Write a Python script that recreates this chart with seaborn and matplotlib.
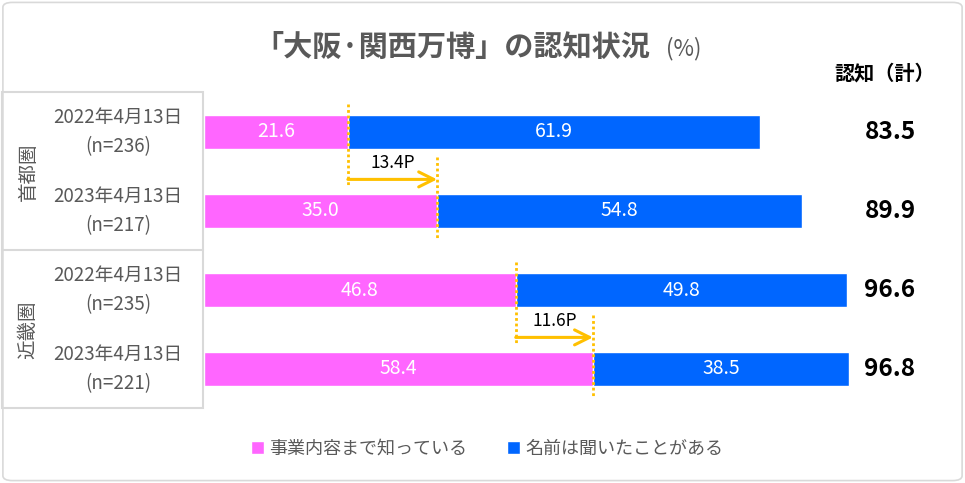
import pandas as pd
import matplotlib.pyplot as plt
import seaborn as sns
from matplotlib.patches import Rectangle, FancyBboxPatch
from matplotlib.lines import Line2D

# data
regions = ['首都圏', '首都圏', '近畿圏', '近畿圏']
dates = ['2022年4月13日', '2023年4月13日', '2022年4月13日', '2023年4月13日']
sample_n = [236, 217, 235, 221]
know_detail = [21.6, 35.0, 46.8, 58.4]
know_name = [61.9, 54.8, 49.8, 38.5]
total = [83.5, 89.9, 96.6, 96.8]
diff_labels = ['13.4P', '11.6P']
series_names = ['事業内容まで知っている', '名前は聞いたことがある']

PINK = '#FF66FF'
BLUE = '#0066FF'
GOLD = '#FFC000'
GRAY = '#595959'

df = pd.DataFrame({
    'row': [f'{r}_{d}_{n}' for r, d, n in zip(regions, dates, sample_n)],
    'detail': know_detail,
    'name': know_name,
})
df['stack'] = df['detail'] + df['name']

sns.set_theme(style='white')
plt.rcParams['font.family'] = ['Noto Sans CJK JP', 'DejaVu Sans']

fig = plt.figure(figsize=(9.65, 4.83), dpi=100)
ax = fig.add_axes([204 / 965, (483 - 408.5) / 483, 736 / 965, 316 / 483])

sns.barplot(data=df, x='stack', y='row', color=BLUE, width=0.42, saturation=1,
            orient='h', ax=ax, label=series_names[1])
sns.barplot(data=df, x='detail', y='row', color=PINK, width=0.42, saturation=1,
            orient='h', ax=ax, label=series_names[0])

ax.set_xlim(0, 110.5)
ax.set_ylim(3.5, -0.5)
ax.axis('off')

# values inside bars
for i in range(len(df)):
    ax.text(know_detail[i] / 2, i, f'{know_detail[i]:.1f}', color='white',
            ha='center', va='center', fontsize=14)
    ax.text(know_detail[i] + know_name[i] / 2, i, f'{know_name[i]:.1f}', color='white',
            ha='center', va='center', fontsize=14)
    ax.text(103, i, f'{total[i]:.1f}', color='black', fontweight='bold',
            ha='center', va='center', fontsize=17.5)
    ax.text(-12.9, i - 0.19, dates[i], color=GRAY, ha='center', va='center',
            fontsize=13.5, clip_on=False)
    ax.text(-12.9, i + 0.19, f'(n={sample_n[i]})', color=GRAY, ha='center', va='center',
            fontsize=13.5, clip_on=False)

# change markers between years
for k, (a, b) in enumerate([(0, 1), (2, 3)]):
    x0, x1 = know_detail[a], know_detail[b]
    ax.plot([x0, x0], [a - 0.35, a + 0.68], color=GOLD, lw=2, ls=(0, (1, 1)))
    ax.plot([x1, x1], [b - 0.68, b + 0.35], color=GOLD, lw=2, ls=(0, (1, 1)))
    ax.annotate('', xy=(x1, a + 0.6), xytext=(x0, a + 0.6),
                arrowprops=dict(arrowstyle='->,head_length=0.9,head_width=0.45',
                                color=GOLD, lw=2.2, shrinkA=0, shrinkB=0))
    ax.text((x0 + x1) / 2, a + 0.39, diff_labels[k], color='black',
            ha='center', va='center', fontsize=12.5)

# title
fig.text(452 / 965, 1 - 47 / 483, '「大阪·関西万博」の認知状況', color=GRAY,
         fontsize=21, fontweight='bold', ha='center', va='center')
fig.text(684 / 965, 1 - 49 / 483, '(%)', color=GRAY, fontsize=16,
         ha='center', va='center')
fig.text(885 / 965, 1 - 73 / 483, '認知（計）', color='black', fontsize=14.5,
         fontweight='bold', ha='center', va='center')

# row label table
fig.add_artist(Rectangle((2 / 965, (483 - 408) / 483), 201 / 965, 316 / 483,
                         transform=fig.transFigure, fill=False,
                         edgecolor='#D9D9D9', lw=1.5))
fig.add_artist(Line2D([2 / 965, 203 / 965], [(483 - 250) / 483] * 2,
                      transform=fig.transFigure, color='#D9D9D9', lw=1.5))
fig.text(28 / 965, 1 - 172 / 483, '首都圏', rotation=90, color=GRAY, fontsize=14,
         ha='center', va='center')
fig.text(28 / 965, 1 - 330 / 483, '近畿圏', rotation=90, color=GRAY, fontsize=14,
         ha='center', va='center')

# outer frame
fig.add_artist(FancyBboxPatch((0.003, 0.005), 0.994, 0.99,
                              boxstyle='round,pad=0,rounding_size=0.01',
                              transform=fig.transFigure, fill=False,
                              edgecolor='#D9D9D9', lw=1.2))

# legend
handles, labels = ax.get_legend_handles_labels()
order = [labels.index(s) for s in series_names]
if ax.get_legend() is not None:
    ax.get_legend().remove()
fig.legend([handles[i] for i in order], [labels[i] for i in order],
           loc='center', bbox_to_anchor=(487 / 965, 1 - 449 / 483), ncol=2,
           frameon=False, fontsize=13, labelcolor=GRAY, handlelength=0.7,
           handleheight=0.7, handletextpad=0.3, columnspacing=2.2)

fig.savefig('out.png', dpi=100)
